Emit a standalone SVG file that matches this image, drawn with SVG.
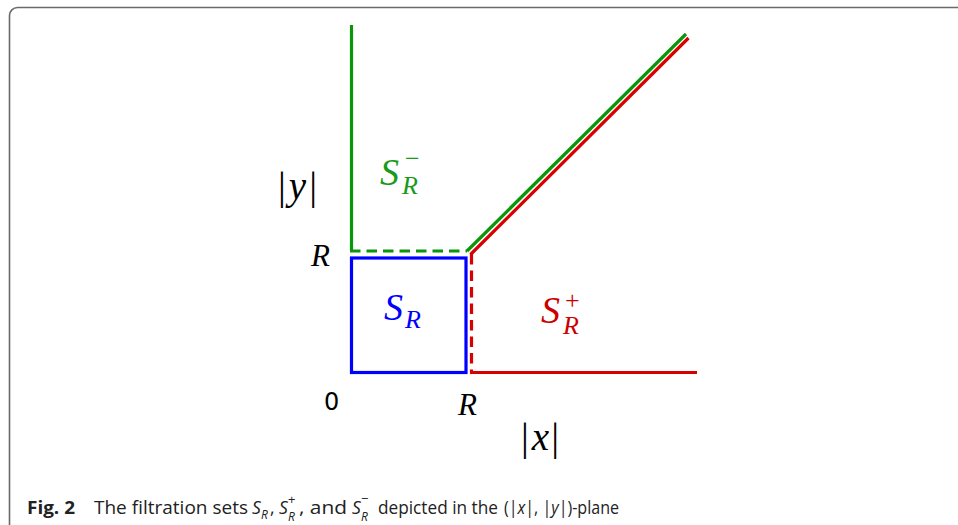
<svg xmlns="http://www.w3.org/2000/svg" width="958" height="525" viewBox="0 0 958 525">
  <style>
    .m { font-family: "Liberation Serif", "DejaVu Serif", serif; fill: #000; }
    .it { font-style: italic; }
    .ln { fill: none; stroke-width: 3.2; stroke-linecap: butt; stroke-linejoin: miter; }
    .g { stroke: #0a960a; }
    .r { stroke: #d80000; }
    .b { stroke: #0000ff; }
    .dash { stroke-dasharray: 10.5 6; }
    .cap { font-family: "Open Sans", "Noto Sans", "DejaVu Sans", sans-serif; font-size: 17.5px; fill: #222; }
    .sub { font-size: 12px; font-style: italic; }
    .sup { font-size: 13px; }
  </style>
  <rect x="0" y="0" width="958" height="525" fill="#ffffff"/>
  <path d="M958,7.5 H17.5 A8,8 0 0 0 9.5,15.5 V525" fill="none" stroke="#6a6a6a" stroke-width="1.6"/>

  <g id="regions">
    <g id="S_R_minus_boundary">
      <path class="ln g" d="M351.5,25 V251"/>
      <path class="ln g dash" d="M350,251 H467"/>
      <path class="ln g" d="M467,251 L686,34"/>
    </g>
    <g id="S_R_boundary">
      <rect class="ln b" x="351.5" y="258" width="114.5" height="114.5"/>
    </g>
    <g id="S_R_plus_boundary">
      <path class="ln r dash" d="M471.5,254 V372.5"/>
      <path class="ln r" d="M470,372.5 H697"/>
      <path class="ln r" d="M470.5,254.5 L688.5,38"/>
    </g>
  </g>

  <g id="labels">
    <text class="m" x="278" y="199" font-size="39">|<tspan class="it" dx="3">y</tspan><tspan dx="3">|</tspan></text>
    <text class="m it" x="311" y="266" font-size="31">R</text>
    <text x="324" y="410" font-size="24" style="font-family:'DejaVu Sans',sans-serif;fill:#000">0</text>
    <text class="m it" x="458" y="415" font-size="31">R</text>
    <text class="m" x="521" y="450" font-size="39">|<tspan class="it" dx="3">x</tspan><tspan dx="2">|</tspan></text>

    <g id="label_S_R_minus">
      <text class="m it" x="380" y="185" font-size="38" style="fill:#1a9a1a">S</text>
      <text class="m it" x="402" y="194" font-size="26" style="fill:#1a9a1a">R</text>
      <text class="m" x="405" y="167" font-size="26" style="fill:#1a9a1a">−</text>
    </g>
    <g id="label_S_R">
      <text class="m it" x="384" y="320" font-size="38" style="fill:#0000ff">S</text>
      <text class="m it" x="405" y="328" font-size="26" style="fill:#0000ff">R</text>
    </g>
    <g id="label_S_R_plus">
      <text class="m it" x="541" y="323" font-size="38" style="fill:#cc0000">S</text>
      <text class="m it" x="563" y="334" font-size="26" style="fill:#cc0000">R</text>
      <text class="m" x="565" y="309" font-size="26" style="fill:#cc0000">+</text>
    </g>
  </g>

  <g id="caption">
    <text class="cap" x="27" y="514" font-weight="bold" textLength="48" lengthAdjust="spacingAndGlyphs">Fig. 2</text>
    <text class="cap" x="94" y="514" textLength="154" lengthAdjust="spacingAndGlyphs">The filtration sets</text>
    <text class="cap" x="252" y="514" font-style="italic">S</text>
    <text class="cap sub" x="261" y="519">R</text>
    <text class="cap" x="270" y="514">,</text>
    <text class="cap" x="279" y="514" font-style="italic">S</text>
    <text class="cap sub" x="288" y="521">R</text>
    <text class="cap sup" x="288" y="504">+</text>
    <text class="cap" x="299" y="514" textLength="48" lengthAdjust="spacingAndGlyphs">, and</text>
    <text class="cap" x="352" y="514" font-style="italic">S</text>
    <text class="cap sub" x="361" y="521">R</text>
    <text class="cap sup" x="361" y="503">−</text>
    <text class="cap" x="378" y="514" textLength="120" lengthAdjust="spacingAndGlyphs">depicted in the</text>
    <text class="cap" x="504" y="514" textLength="115" lengthAdjust="spacingAndGlyphs">(|<tspan font-style="italic">x</tspan>|, |<tspan font-style="italic">y</tspan>|)-plane</text>
  </g>
</svg>
